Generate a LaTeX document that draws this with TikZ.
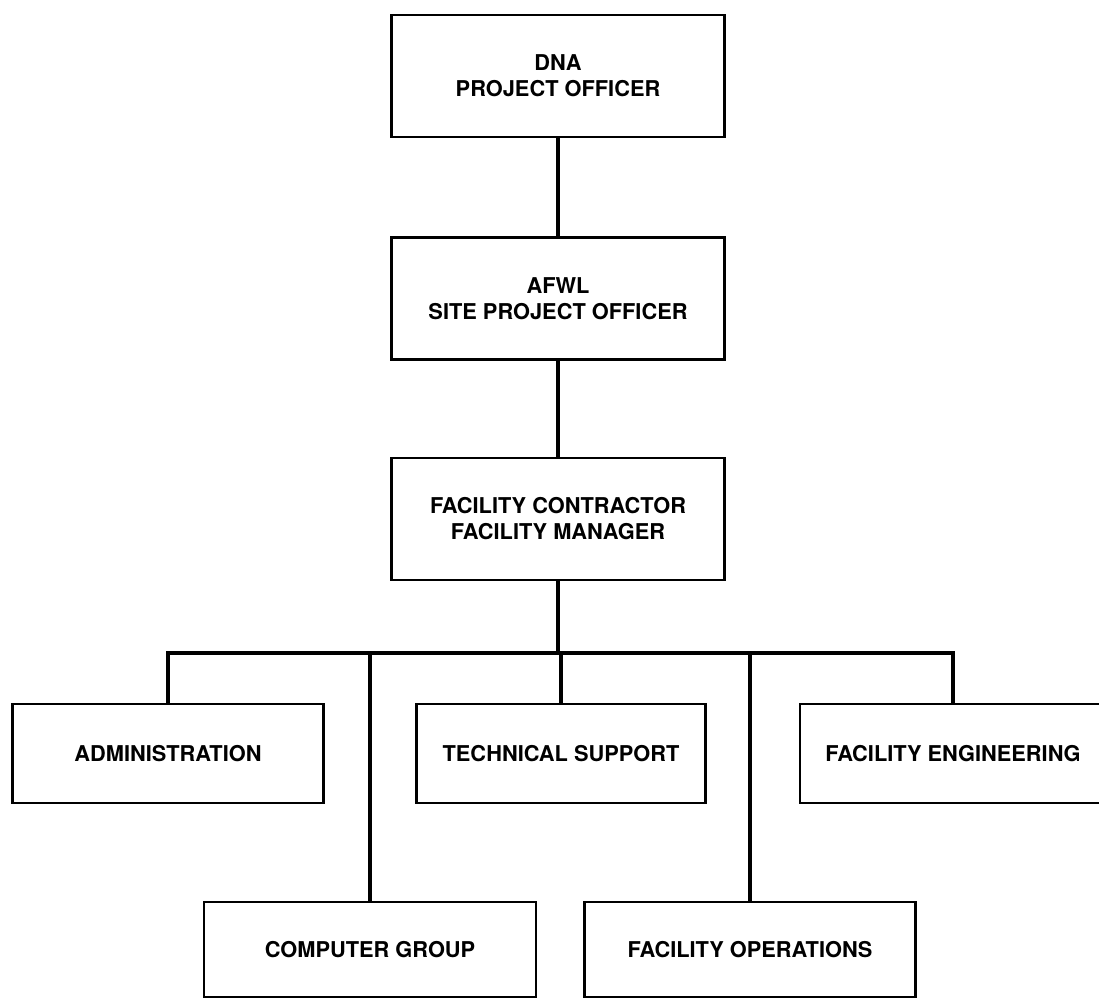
\documentclass[tikz,border=0pt]{standalone}
\usepackage{fontspec}
\setmainfont{TeX Gyre Heros}
\usepackage{tikz}

\tikzset{
  orgbox/.style={draw, line width=1.9pt, align=center, inner sep=2pt,
    font=\bfseries\fontsize{15.5}{18.5}\selectfont},
  topbox/.style={orgbox, minimum width=8.325cm, minimum height=3.05cm},
  unitbox/.style={orgbox, minimum height=2.475cm},
  link/.style={line width=2.6pt, line join=miter}
}

\begin{document}
\begin{tikzpicture}[x=0.025cm, y=-0.025cm]
			\useasboundingbox (0,0) rectangle (1099,998);
			% chain of command
			\node[topbox] (dna) at (558, 76) {DNA\\PROJECT OFFICER};
			\node[topbox] (afwl) at (558, 298.5) {AFWL\\SITE PROJECT OFFICER};
			\node[topbox] (fcm) at (558, 519) {FACILITY CONTRACTOR\\FACILITY MANAGER};
			% branches
			\node[unitbox, minimum width=7.775cm] (adm) at (168, 753.5) {ADMINISTRATION};
			\node[unitbox, minimum width=7.225cm] (tec) at (561, 753.5) {TECHNICAL SUPPORT};
			\node[unitbox, minimum width=7.65cm] (eng) at (953, 753.5) {FACILITY ENGINEERING};
			\node[unitbox, minimum width=8.3cm, minimum height=2.375cm] (cmp) at (370, 949.5) {COMPUTER GROUP};
			\node[unitbox, minimum width=8.275cm, minimum height=2.375cm] (ops) at (750, 949.5) {FACILITY OPERATIONS};
			\coordinate (busL) at (168, 653);
			\coordinate (busR) at (953, 653);
			\draw[link] (dna) -- (afwl);
			\draw[link] (afwl) -- (fcm);
			\draw[link] (fcm) -- (fcm |- busL);
			\draw[link] (adm.north) -- (busL) -- (busR) -- (eng.north);
			\draw[link] (tec.north) -- (tec.north |- busL);
			\draw[link] (cmp.north) -- (cmp.north |- busL);
			\draw[link] (ops.north) -- (ops.north |- busL);
		\end{tikzpicture}
\end{document}
